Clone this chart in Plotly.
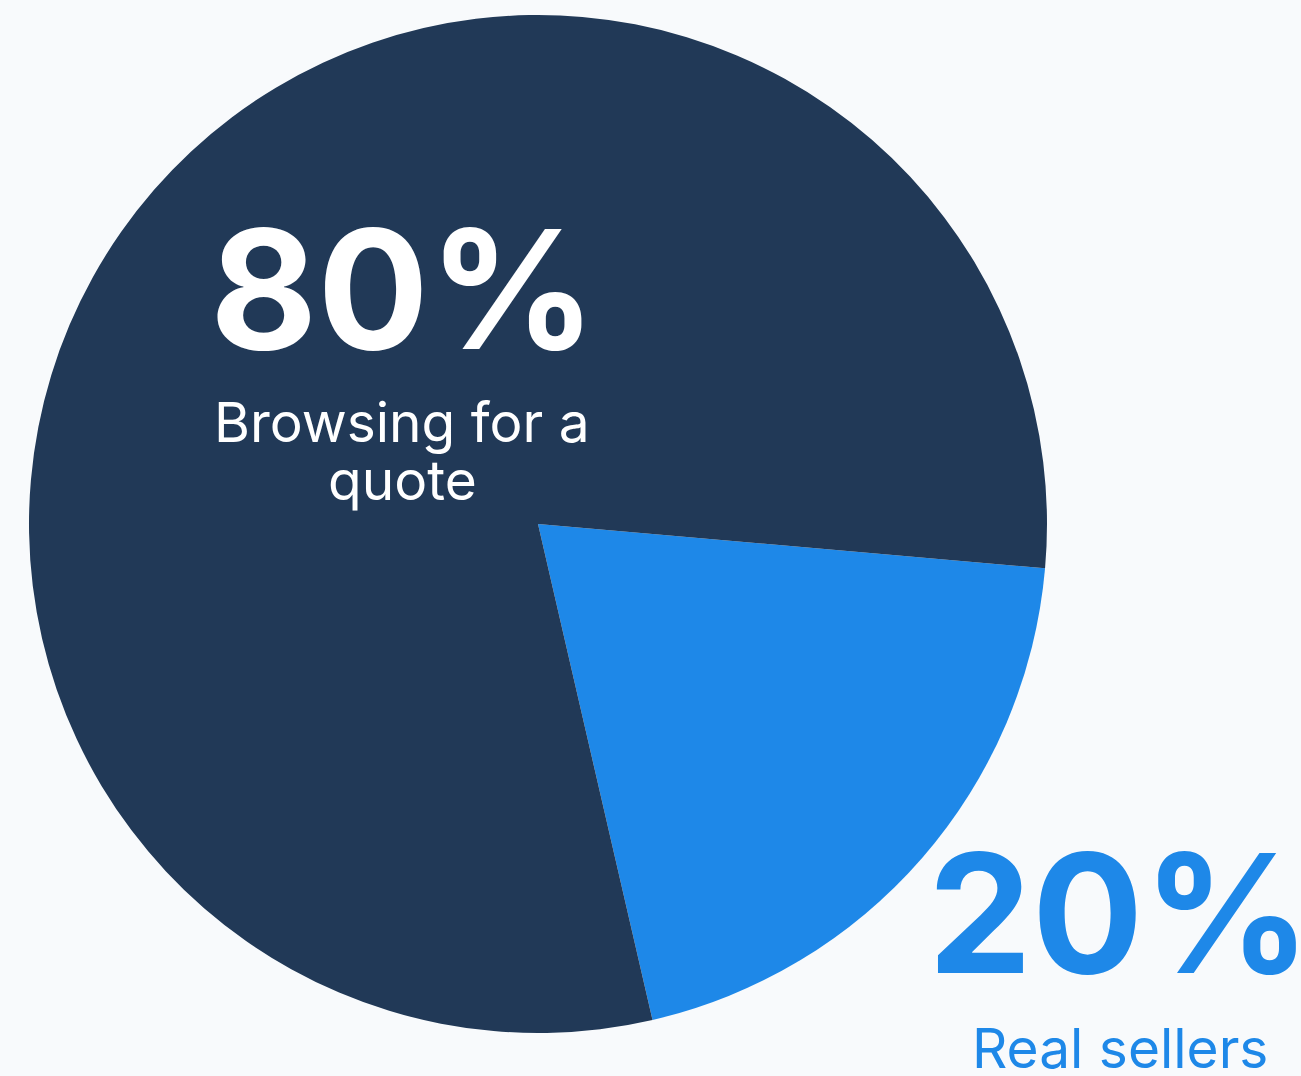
import plotly.graph_objects as go

# Share of visitors by intent
labels = ["Real sellers", "Browsing for a quote"]
values = [20, 80]
colors = ["#1E88E8", "#213957"]

W, H = 1301, 1076
BG = "#F8FAFC"
FONT = "Inter"


def px(x):
    return x / W


def py(y):
    return 1 - y / H


fig = go.Figure(
    go.Pie(
        labels=labels,
        values=values,
        sort=False,
        direction="clockwise",
        rotation=95,
        marker=dict(colors=colors, line=dict(width=0)),
        textinfo="none",
        hoverinfo="label+percent",
        domain=dict(x=[px(29), px(1047)], y=[py(1033), py(15)]),
    )
)

big = dict(family=FONT, size=165, weight=700)
small = dict(family=FONT, size=55, weight=400)

annotations = [
    dict(text=f"{values[1]}%", x=px(403), y=py(289), font=dict(**big, color="#FFFFFF")),
    dict(text="Browsing for a", x=px(402), y=py(422), font=dict(**small, color="#FFFFFF")),
    dict(text="quote", x=px(402), y=py(480), font=dict(**small, color="#FFFFFF")),
    dict(text=f"{values[0]}%", x=px(1119), y=py(913), font=dict(**big, color=colors[0])),
    dict(text=labels[0], x=px(1120), y=py(1048), font=dict(**small, color=colors[0])),
]
for a in annotations:
    a.update(xref="paper", yref="paper", xanchor="center", yanchor="middle", showarrow=False)

fig.update_layout(
    width=W,
    height=H,
    margin=dict(l=0, r=0, t=0, b=0),
    paper_bgcolor=BG,
    plot_bgcolor=BG,
    showlegend=False,
    annotations=annotations,
)

fig.write_html("out.html", config={"displayModeBar": False})
